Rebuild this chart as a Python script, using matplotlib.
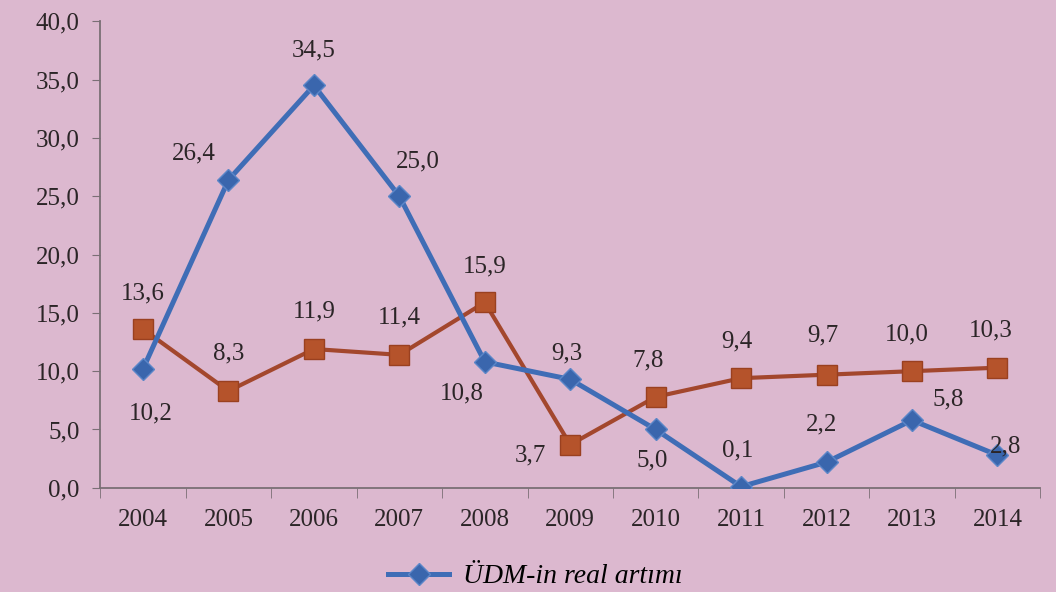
import matplotlib.pyplot as plt
import numpy as np

years = ['2004', '2005', '2006', '2007', '2008', '2009', '2010', '2011', '2012', '2013', '2014']
gdp = [10.2, 26.4, 34.5, 25.0, 10.8, 9.3, 5.0, 0.1, 2.2, 5.8, 2.8]
other = [13.6, 8.3, 11.9, 11.4, 15.9, 3.7, 7.8, 9.4, 9.7, 10.0, 10.3]

# label offsets in pixels (dx, dy up) for each point
gdp_off = [(8, -45), (-35, 26), (0, 35), (18, 35), (-23, -32), (-3, 26), (-3, -31),
           (-3, 36), (-5, 38), (36, 21), (8, 9)]
other_off = [(0, 36), (0, 38), (0, 38), (0, 37), (0, 36), (-40, -11), (-8, 36),
             (-4, 37), (-4, 39), (-5, 37), (-7, 37)]

bg = '#dcb8cf'
txt = '#2b2527'
plt.rcParams['font.family'] = ['Liberation Serif', 'DejaVu Serif']

fig = plt.figure(figsize=(10.56, 5.92), dpi=100, facecolor=bg)
ax = fig.add_axes([0.095, 0.176, 0.89, 0.788])
ax.set_facecolor(bg)

x = np.arange(len(years))
ax.plot(x, gdp, color='#3f6db6', lw=3.6, marker='D', ms=11, mfc='#3a66ad', mec='#5b86c8',
        mew=1, label='ÜDM-in real artımı', zorder=3)
ax.plot(x, other, color='#a3472d', lw=3, marker='s', ms=14, mfc='#b5532b', mec='#9a4020',
        zorder=2)

for i in range(len(x)):
    ax.annotate(f'{gdp[i]:.1f}'.replace('.', ','), (x[i], gdp[i]), xytext=gdp_off[i],
                textcoords='offset pixels', ha='center', va='center', fontsize=18, color=txt)
    ax.annotate(f'{other[i]:.1f}'.replace('.', ','), (x[i], other[i]), xytext=other_off[i],
                textcoords='offset pixels', ha='center', va='center', fontsize=18, color=txt)

ax.set_xlim(-0.5, len(years) - 0.5)
ax.set_ylim(0, 40)
yt = np.arange(0, 41, 5)
ax.set_yticks(yt)
ax.set_yticklabels([f'{v:.1f}'.replace('.', ',') for v in yt], fontsize=18, color=txt)
ax.set_xticks(x)
ax.set_xticklabels(years, fontsize=18, color=txt)
ax.set_xticks(np.arange(-0.5, len(years), 1), minor=True)
ax.tick_params(axis='x', which='major', length=0, pad=15)
ax.tick_params(axis='x', which='minor', length=7, color='#7a6f75')
ax.tick_params(axis='y', length=6, color='#7a6f75', pad=9)

for s in ['top', 'right']:
    ax.spines[s].set_visible(False)
for s in ['left', 'bottom']:
    ax.spines[s].set_color('#7a6f75')
    ax.spines[s].set_linewidth(1.3)

fig.legend(loc='center', bbox_to_anchor=(0.507, 0.026), frameon=False,
           handlelength=2.2, handletextpad=0.5, prop={'style': 'italic', 'size': 20})

fig.savefig('out.png', dpi=100, facecolor=bg)
